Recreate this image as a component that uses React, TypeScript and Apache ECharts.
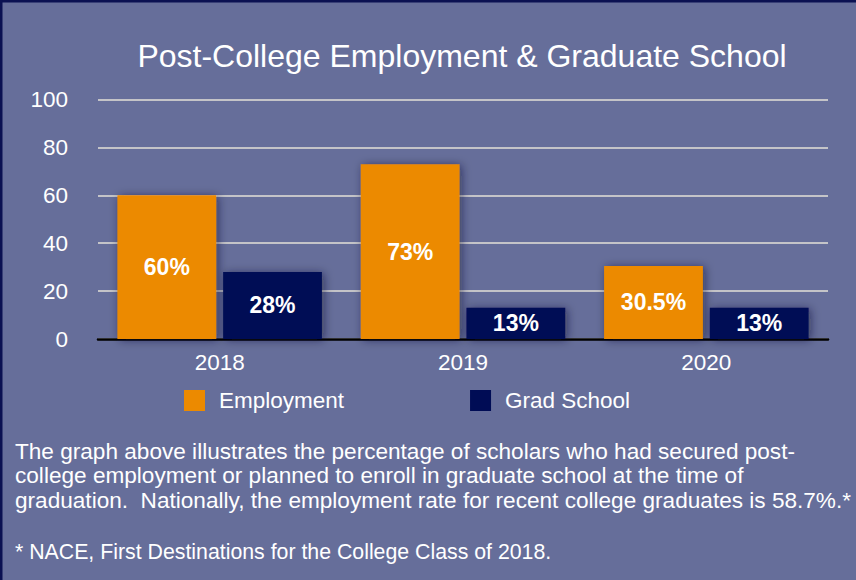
import React, { useEffect, useRef } from "react";
import * as echarts from "echarts";

const categories = ["2018", "2019", "2020"];
const employment = [60, 73, 30.5];
const gradSchool = [28, 13, 13];
const employmentLabels = ["60%", "73%", "30.5%"];
const gradLabels = ["28%", "13%", "13%"];
const yTicks = [0, 20, 40, 60, 80, 100];

const titleText = "Post-College Employment & Graduate School";
const bodyLines = [
  "The graph above illustrates the percentage of scholars who had secured post-",
  "college employment or planned to enroll in graduate school at the time of",
  "graduation.  Nationally, the employment rate for recent college graduates is 58.7%.*",
];
const footnote = "* NACE, First Destinations for the College Class of 2018.";

const BG = "#666e9a";
const BORDER = "#0b1152";
const ORANGE = "#ec8a00";
const NAVY = "#000c55";
const FONT = "'Liberation Sans', Arial, sans-serif";

export default function App() {
  const ref = useRef<HTMLDivElement>(null);
  useEffect(() => {
    if (!ref.current) return;
    const chart = echarts.init(ref.current, undefined, { renderer: "svg" });
    const barShadow = {
      shadowBlur: 10,
      shadowColor: "rgba(20,20,50,0.55)",
      shadowOffsetX: 2,
      shadowOffsetY: 1,
    };
    chart.setOption({
      animation: false,
      backgroundColor: BG,
      textStyle: { fontFamily: FONT },
      title: {
        text: titleText,
        left: 457,
        textAlign: "center",
        top: 35,
        textStyle: { color: "#ffffff", fontSize: 32, fontWeight: "normal", fontFamily: FONT },
      },
      legend: {
        data: ["Employment", "Grad School"],
        left: 184,
        top: 389,
        padding: 0,
        itemWidth: 21,
        itemHeight: 21,
        itemGap: 126,
        icon: "rect",
        textStyle: { color: "#ffffff", fontSize: 22.5, fontFamily: FONT, padding: [0, 0, 0, 9] },
      },
      grid: { left: 98, right: 28, top: 99.5, bottom: 241, containLabel: false },
      xAxis: {
        type: "category",
        data: categories,
        axisLine: { lineStyle: { color: "#000000", width: 2.5 } },
        axisTick: { show: false },
        axisLabel: { color: "#ffffff", fontSize: 22.5, margin: 12, fontFamily: FONT },
      },
      yAxis: {
        type: "value",
        min: yTicks[0],
        max: yTicks[yTicks.length - 1],
        interval: 20,
        axisLine: { show: false },
        axisTick: { show: false },
        axisLabel: { color: "#ffffff", fontSize: 22.5, margin: 30, fontFamily: FONT },
        splitLine: { lineStyle: { color: "#c4c4c8", width: 2 } },
      },
      series: [
        {
          name: "Employment",
          type: "bar",
          data: employment,
          barWidth: "40.6%",
          barGap: "7%",
          itemStyle: { color: ORANGE, ...barShadow },
          label: {
            show: true,
            position: "inside",
            formatter: (p: any) => employmentLabels[p.dataIndex],
            color: "#ffffff",
            fontSize: 23,
            fontWeight: "bold",
            fontFamily: FONT,
          },
        },
        {
          name: "Grad School",
          type: "bar",
          data: gradSchool,
          barWidth: "40.6%",
          itemStyle: { color: NAVY, ...barShadow },
          label: {
            show: true,
            position: "inside",
            formatter: (p: any) => gradLabels[p.dataIndex],
            color: "#ffffff",
            fontSize: 23,
            fontWeight: "bold",
            fontFamily: FONT,
          },
        },
      ],
      graphic: [
        { type: "rect", shape: { x: 0, y: 0, width: 856, height: 2.5 }, style: { fill: BORDER } },
        { type: "rect", shape: { x: 0, y: 0, width: 2.5, height: 580 }, style: { fill: BORDER } },
        {
          type: "text",
          left: 15,
          top: 439,
          style: {
            text: bodyLines.join("\n"),
            fill: "#ffffff",
            font: `22.6px ${FONT}`,
            lineHeight: 24.5,
          },
        },
        {
          type: "text",
          left: 15,
          top: 541,
          style: { text: footnote, fill: "#ffffff", font: `21.3px ${FONT}` },
        },
      ],
    });
    return () => chart.dispose();
  }, []);
  return (
    <div
      ref={ref}
      style={{ position: "absolute", left: 0, top: 0, width: 856, height: 580, background: BG }}
    />
  );
}
